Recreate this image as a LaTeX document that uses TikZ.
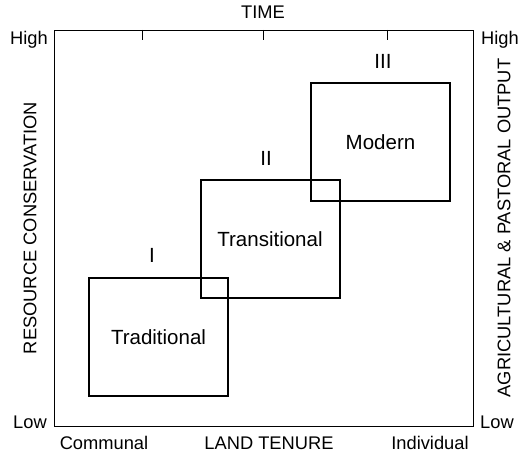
\documentclass[tikz,border=0pt]{standalone}
\usepackage{fontspec}
\setmainfont{Liberation Sans}
\usetikzlibrary{positioning}

\tikzset{
	stagebox/.style={draw, line width=2pt, minimum width=139pt, minimum height=118pt, inner sep=0pt, font=\fontsize{20.5}{24}\selectfont},
	numeral/.style={inner sep=0pt, font=\fontsize{20.5}{24}\selectfont},
	axislabel/.style={inner sep=0pt, font=\fontsize{18.3}{22}\selectfont}
}

\begin{document}
\begin{tikzpicture}[x=1pt,y=-1pt]
			\useasboundingbox (0,0) rectangle (528,457);
			% frame and time ticks
			\draw[line width=.8pt] (54,30) rectangle (473,426);
			\foreach \tx in {142,263,387} \draw[line width=.8pt] (\tx,30) -- (\tx,40);
			
			% axis labels
			\node[axislabel] (time) at (263,12) {TIME};
			\node[axislabel, anchor=east] (highL) at (48,40) {High};
			\node[axislabel, anchor=east] (lowL) at (47,422) {Low};
			\node[axislabel, anchor=west] (highR) at (481,40) {High};
			\node[axislabel, anchor=west] (lowR) at (480,422) {Low};
			\node[axislabel] (communal) at (104,443) {Communal};
			\node[axislabel] (tenure) at (269,443) {LAND TENURE};
			\node[axislabel] (individual) at (430,443) {Individual};
			\node[axislabel, rotate=90] (conservation) at (30,228) {RESOURCE CONSERVATION};
			\node[axislabel, rotate=90] (output) at (504,228) {AGRICULTURAL \& PASTORAL OUTPUT};
			
			% stages
			\node[stagebox] (trad) at (158.5,337) {Traditional};
			\node[stagebox] (trans) at (270,239.5) {Transitional};
			\node[stagebox] (modern) at (380.5,142) {Modern};
			
			\node[numeral, above=14pt of trad, xshift=-6.5pt] (one) {I};
			\node[numeral, above=14pt of trans, xshift=-4pt] (two) {II};
			\node[numeral, above=13pt of modern, xshift=2.5pt] (three) {III};
\end{tikzpicture}
\end{document}
